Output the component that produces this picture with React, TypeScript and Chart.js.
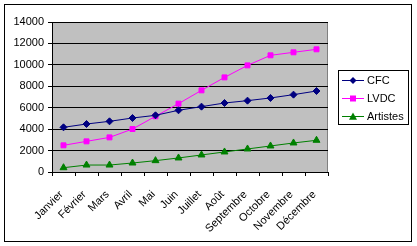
import React, { useEffect, useRef } from "react";
import { Chart, registerables } from "chart.js";

Chart.register(...registerables);

const months = ["Janvier", "Février", "Mars", "Avril", "Mai", "Juin", "Juillet", "Août", "Septembre", "Octobre", "Novembre", "Décembre"];
const cfc = [4170, 4480, 4730, 5040, 5290, 5760, 6100, 6440, 6660, 6910, 7220, 7560];
const lvdc = [2490, 2860, 3230, 4010, 5200, 6380, 7620, 8830, 9950, 10890, 11170, 11450];
const artistes = [400, 650, 650, 840, 1060, 1310, 1590, 1870, 2150, 2430, 2710, 2960];

const FONT = "Arial, 'Liberation Sans', sans-serif";

function drawMarker(ctx: CanvasRenderingContext2D, style: string, r: number, x: number, y: number, color: string) {
  ctx.fillStyle = color;
  ctx.beginPath();
  if (style === "rectRot") {
    ctx.moveTo(x, y - r);
    ctx.lineTo(x + r, y);
    ctx.lineTo(x, y + r);
    ctx.lineTo(x - r, y);
  } else if (style === "rect") {
    ctx.rect(x - r, y - r, 2 * r, 2 * r);
  } else {
    ctx.moveTo(x, y - r);
    ctx.lineTo(x + r, y + r * 0.8);
    ctx.lineTo(x - r, y + r * 0.8);
  }
  ctx.closePath();
  ctx.fill();
}

const framePlugin = {
  id: "frame",
  beforeDraw(chart: any) {
    const { ctx, chartArea } = chart;
    ctx.save();
    ctx.fillStyle = "#ffffff";
    ctx.fillRect(0, 0, chart.width, chart.height);
    ctx.strokeStyle = "#000000";
    ctx.lineWidth = 1;
    ctx.strokeRect(4.5, 4.5, 407, 237);
    ctx.fillStyle = "#c0c0c0";
    ctx.fillRect(chartArea.left, chartArea.top, chartArea.right - chartArea.left, chartArea.bottom - chartArea.top);
    ctx.strokeStyle = "#808080";
    ctx.strokeRect(chartArea.left + 0.5, chartArea.top + 0.5, chartArea.right - chartArea.left - 1, chartArea.bottom - chartArea.top);
    ctx.restore();
  },
  afterDraw(chart: any) {
    const { ctx } = chart;
    ctx.save();
    const x0 = 338, y0 = 70, w = 70, h = 54;
    ctx.fillStyle = "#ffffff";
    ctx.fillRect(x0, y0, w, h);
    ctx.strokeStyle = "#000000";
    ctx.lineWidth = 1;
    ctx.strokeRect(x0 + 0.5, y0 + 0.5, w, h);
    ctx.font = `11px ${FONT}`;
    ctx.textBaseline = "middle";
    const styles = ["rectRot", "rect", "triangle"];
    const radii = [3.5, 3, 4];
    chart.data.datasets.forEach((ds: any, i: number) => {
      const y = 80.5 + i * 18;
      ctx.strokeStyle = ds.borderColor;
      ctx.beginPath();
      ctx.moveTo(342, y);
      ctx.lineTo(364, y);
      ctx.stroke();
      drawMarker(ctx, styles[i], radii[i], 353, y, ds.borderColor);
      ctx.fillStyle = "#000000";
      ctx.fillText(ds.label, 367, y + 0.5);
    });
    ctx.restore();
  },
};

export default function App() {
  const ref = useRef<HTMLCanvasElement>(null);
  useEffect(() => {
    document.body.style.margin = "0";
    const chart = new Chart(ref.current!, {
      type: "line",
      data: {
        labels: months,
        datasets: [
          { label: "CFC", data: cfc, borderColor: "#000080", backgroundColor: "#000080", borderWidth: 1, pointStyle: "rectRot", pointRadius: 3.5, pointBorderWidth: 1 },
          { label: "LVDC", data: lvdc, borderColor: "#ff00ff", backgroundColor: "#ff00ff", borderWidth: 1, pointStyle: "rect", pointRadius: 3.5, pointBorderWidth: 1 },
          { label: "Artistes", data: artistes, borderColor: "#008000", backgroundColor: "#008000", borderWidth: 1, pointStyle: "triangle", pointRadius: 4, pointBorderWidth: 1 },
        ],
      },
      options: {
        animation: false,
        responsive: false,
        devicePixelRatio: 1,
        layout: { padding: { left: 0, right: 89, top: 22, bottom: 0 } },
        plugins: { legend: { display: false }, tooltip: { enabled: false } },
        scales: {
          x: {
            offset: true,
            grid: { offset: true, drawOnChartArea: false, color: "#000000", tickLength: 4 },
            border: { color: "#000000" },
            ticks: { color: "#000000", font: { family: FONT, size: 11 }, minRotation: 45, maxRotation: 45, padding: 12, labelOffset: -2, autoSkip: false },
            afterFit: (s: any) => { s.height = 74; },
          },
          y: {
            min: 0,
            max: 14000,
            grid: { color: "#000000", tickLength: 4 },
            border: { color: "#000000" },
            ticks: { stepSize: 2000, color: "#000000", font: { family: FONT, size: 11 }, padding: 4, callback: (v: any) => String(v) },
            afterFit: (s: any) => { s.width = 52; },
          },
        },
      },
      plugins: [framePlugin],
    } as any);
    return () => chart.destroy();
  }, []);
  return (
    <div style={{ position: "absolute", left: 0, top: 0, width: 417, height: 246 }}>
      <canvas ref={ref} width={417} height={246} style={{ width: 417, height: 246 }} />
    </div>
  );
}
